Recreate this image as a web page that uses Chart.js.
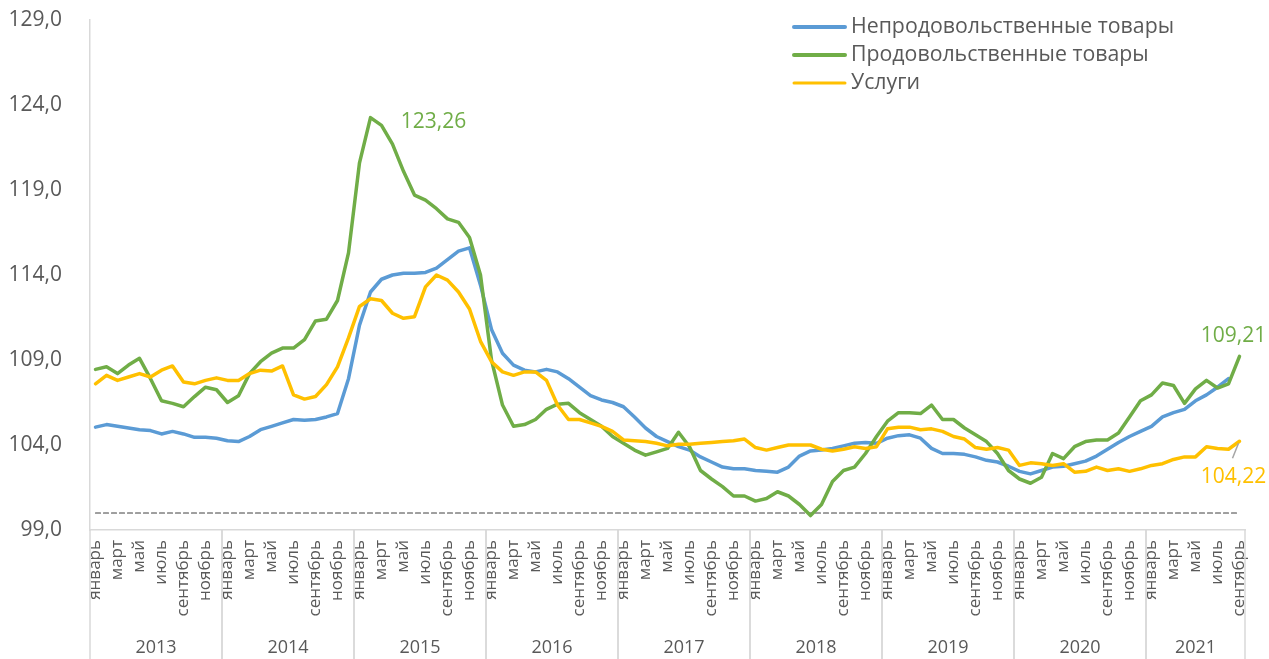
<!DOCTYPE html>
<html>
<head>
<meta charset="utf-8">
<script src="https://cdn.jsdelivr.net/npm/chart.js@4.4.1/dist/chart.umd.min.js"></script>
<style>
  html, body { margin: 0; padding: 0; background: #fff; }
  #wrap { width: 1269px; height: 659px; }
</style>
</head>
<body>
<div id="wrap"><canvas id="myChart" width="1269" height="659"></canvas></div>
<script>
const years = ['2013', '2014', '2015', '2016', '2017', '2018', '2019', '2020', '2021'];
const months = ['январь', 'февраль', 'март', 'апрель', 'май', 'июнь', 'июль', 'август', 'сентябрь', 'октябрь', 'ноябрь', 'декабрь'];
const monthsIn2021 = 9;

const seriesNames = ['Непродовольственные товары', 'Продовольственные товары', 'Услуги'];

// Непродовольственные товары (январь 2013 - август 2021)
const nonFood = [
    105.05, 105.2, 105.1, 105.0, 104.9, 104.85, 104.65, 104.8, 104.65, 104.45, 104.45, 104.4,
    104.25, 104.2, 104.5, 104.9, 105.1, 105.3, 105.5, 105.45, 105.5, 105.65, 105.85, 107.9,
    111.05, 113.0, 113.75, 114.0, 114.1, 114.1, 114.15, 114.4, 114.9, 115.4, 115.6, 113.4,
    110.8, 109.4, 108.7, 108.4, 108.3, 108.45, 108.3, 107.9, 107.4, 106.9, 106.65, 106.5,
    106.25, 105.65, 105.0, 104.5, 104.2, 103.9, 103.7, 103.3, 103.0, 102.7, 102.6, 102.6,
    102.5, 102.45, 102.4, 102.7, 103.35, 103.65, 103.7, 103.8, 103.95, 104.1, 104.15, 104.1,
    104.4, 104.55, 104.6, 104.4, 103.8, 103.5, 103.5, 103.45, 103.3, 103.1, 103.0, 102.75,
    102.45, 102.3, 102.5, 102.7, 102.75, 102.9, 103.05, 103.35, 103.75, 104.15, 104.5, 104.8,
    105.1, 105.65, 105.9, 106.1, 106.6, 106.95, 107.4, 107.9, null
];

// Продовольственные товары
const food = [
    108.45, 108.6, 108.2, 108.7, 109.1, 107.9, 106.6, 106.45, 106.25, 106.85, 107.4, 107.25,
    106.5, 106.9, 108.2, 108.9, 109.4, 109.7, 109.7, 110.2, 111.3, 111.4, 112.5, 115.3,
    120.6, 123.26, 122.8, 121.7, 120.1, 118.7, 118.4, 117.9, 117.3, 117.1, 116.2, 114.0,
    109.0, 106.35, 105.1, 105.2, 105.5, 106.1, 106.4, 106.45, 105.9, 105.5, 105.1, 104.5,
    104.1, 103.7, 103.4, 103.6, 103.8, 104.75, 103.9, 102.5, 102.0, 101.55, 101.0, 101.0,
    100.7, 100.85, 101.25, 101.0, 100.5, 99.85, 100.5, 101.85, 102.5, 102.7, 103.5, 104.5,
    105.4, 105.9, 105.9, 105.85, 106.35, 105.5, 105.5, 105.0, 104.6, 104.2, 103.5, 102.5,
    102.0, 101.75, 102.1, 103.5, 103.2, 103.9, 104.2, 104.3, 104.3, 104.7, 105.65, 106.6,
    106.95, 107.65, 107.5, 106.45, 107.3, 107.8, 107.35, 107.6, 109.21
];

// Услуги
const services = [
    107.6, 108.1, 107.8, 108.0, 108.2, 108.0, 108.4, 108.65, 107.7, 107.6, 107.8, 107.95,
    107.8, 107.8, 108.2, 108.4, 108.35, 108.65, 106.95, 106.7, 106.85, 107.55, 108.6, 110.3,
    112.15, 112.6, 112.5, 111.75, 111.45, 111.55, 113.3, 114.0, 113.7, 113.0, 112.0, 110.1,
    108.9, 108.3, 108.1, 108.3, 108.3, 107.8, 106.35, 105.5, 105.5, 105.3, 105.1, 104.8,
    104.3, 104.25, 104.2, 104.1, 103.95, 104.05, 104.05, 104.1, 104.15, 104.2, 104.25, 104.35,
    103.85, 103.7, 103.85, 104.0, 104.0, 104.0, 103.75, 103.65, 103.75, 103.9, 103.8, 103.9,
    104.95, 105.05, 105.05, 104.9, 104.95, 104.8, 104.5, 104.35, 103.85, 103.75, 103.85, 103.7,
    102.8, 102.95, 102.9, 102.8, 102.9, 102.4, 102.45, 102.7, 102.5, 102.6, 102.45, 102.6,
    102.8, 102.9, 103.15, 103.3, 103.3, 103.9, 103.8, 103.75, 104.22
];

const baseLevel = 100;
const yTicks = [99, 104, 109, 114, 119, 124, 129];

const seriesColors = ['#5B9BD5', '#70AD47', '#FFC000'];
const fontFamily = '"Open Sans", "Noto Sans", sans-serif';
const textColor = '#595959';

// category labels: month + year
const labels = [];
years.forEach((yr, i) => {
    const n = i === years.length - 1 ? monthsIn2021 : 12;
    for (let m = 0; m < n; m++) labels.push(months[m]);
});
const baseLine = labels.map(() => baseLevel);

const fmt = v => v.toFixed(2).replace('.', ',');

// year labels, separators, legend and value labels
const extras = {
    id: 'extras',
    afterDraw(chart) {
        const ctx = chart.ctx;
        const x = chart.scales.x;
        const y = chart.scales.y;
        const area = chart.chartArea;
        const half = (x.getPixelForValue(1) - x.getPixelForValue(0)) / 2;
        ctx.save();

        // year separators + year names
        ctx.strokeStyle = '#d9d9d9';
        ctx.lineWidth = 1.5;
        ctx.fillStyle = textColor;
        ctx.font = '18px ' + fontFamily;
        ctx.textAlign = 'center';
        ctx.textBaseline = 'middle';
        let start = 0;
        years.forEach((yr, i) => {
            const n = i === years.length - 1 ? monthsIn2021 : 12;
            const x0 = x.getPixelForValue(start) - half;
            const x1 = x.getPixelForValue(start + n - 1) + half;
            [x0, x1].forEach(px => {
                ctx.beginPath();
                ctx.moveTo(px, area.bottom);
                ctx.lineTo(px, 659);
                ctx.stroke();
            });
            ctx.fillText(yr, (x0 + x1) / 2, 648);
            start += n;
        });

        // legend
        ctx.textAlign = 'left';
        ctx.font = '21.3px ' + fontFamily;
        seriesNames.forEach((name, i) => {
            const ly = 27 + i * 28;
            ctx.strokeStyle = seriesColors[i];
            ctx.lineWidth = i === 2 ? 3 : 4;
            ctx.lineCap = 'round';
            ctx.beginPath();
            ctx.moveTo(794, ly);
            ctx.lineTo(845, ly);
            ctx.stroke();
            ctx.fillStyle = textColor;
            ctx.fillText(name, 851, ly);
        });

        // value labels
        ctx.textAlign = 'center';
        ctx.font = '21px ' + fontFamily;
        const peak = food.indexOf(Math.max(...food));
        ctx.fillStyle = seriesColors[1];
        ctx.fillText(fmt(food[peak]), x.getPixelForValue(peak) + 63, y.getPixelForValue(food[peak]) + 4);

        const last = labels.length - 1;
        const gx = x.getPixelForValue(last);
        ctx.fillText(fmt(food[last]), gx - 6, y.getPixelForValue(food[last]) - 20);

        ctx.fillStyle = seriesColors[2];
        const sy = y.getPixelForValue(services[last]);
        ctx.fillText(fmt(services[last]), gx - 6, sy + 36);
        ctx.strokeStyle = '#a6a6a6';
        ctx.lineWidth = 1.5;
        ctx.lineCap = 'butt';
        ctx.beginPath();
        ctx.moveTo(gx - 1, sy + 2);
        ctx.lineTo(gx - 7, sy + 17);
        ctx.stroke();

        ctx.restore();
    }
};

const ctx = document.getElementById('myChart').getContext('2d');
const myChart = new Chart(ctx, {
    type: 'line',
    data: {
        labels: labels,
        datasets: [
            { label: seriesNames[0], data: nonFood, borderColor: seriesColors[0], borderWidth: 3.5, order: 3 },
            { label: seriesNames[1], data: food, borderColor: seriesColors[1], borderWidth: 3.5, order: 2 },
            { label: seriesNames[2], data: services, borderColor: seriesColors[2], borderWidth: 3.5, order: 1 },
            { label: 'base', data: baseLine, borderColor: '#404040', borderWidth: 1.2, borderDash: [5, 3], order: 4 }
        ]
    },
    options: {
        responsive: false,
        animation: false,
        layout: { padding: { top: 20, right: 24, left: 0, bottom: 0 } },
        elements: {
            point: { radius: 0, hoverRadius: 0 },
            line: { tension: 0, borderCapStyle: 'round', borderJoinStyle: 'round' }
        },
        plugins: {
            legend: { display: false },
            tooltip: { enabled: false }
        },
        scales: {
            x: {
                offset: true,
                grid: { display: false },
                border: { display: true, color: '#d9d9d9', width: 1.5 },
                ticks: {
                    autoSkip: false,
                    maxRotation: 90,
                    minRotation: 90,
                    padding: 2,
                    color: textColor,
                    font: { family: fontFamily, size: 17 },
                    callback: (v, i) => (i % 2 === 0 ? labels[i] : '')
                },
                afterFit: scale => { scale.height = 129; scale.paddingLeft = 0; scale.paddingRight = 0; }
            },
            y: {
                min: 99,
                max: 129,
                afterBuildTicks: scale => { scale.ticks = yTicks.map(v => ({ value: v })); },
                grid: { display: false, drawTicks: false },
                border: { display: true, color: '#d9d9d9', width: 1.5 },
                ticks: {
                    padding: 28,
                    color: textColor,
                    font: { family: fontFamily, size: 21 },
                    callback: v => v.toFixed(1).replace('.', ',')
                },
                afterFit: scale => { scale.width = 90; scale.paddingTop = 0; scale.paddingBottom = 0; }
            }
        }
    },
    plugins: [extras]
});
</script>
</body>
</html>
